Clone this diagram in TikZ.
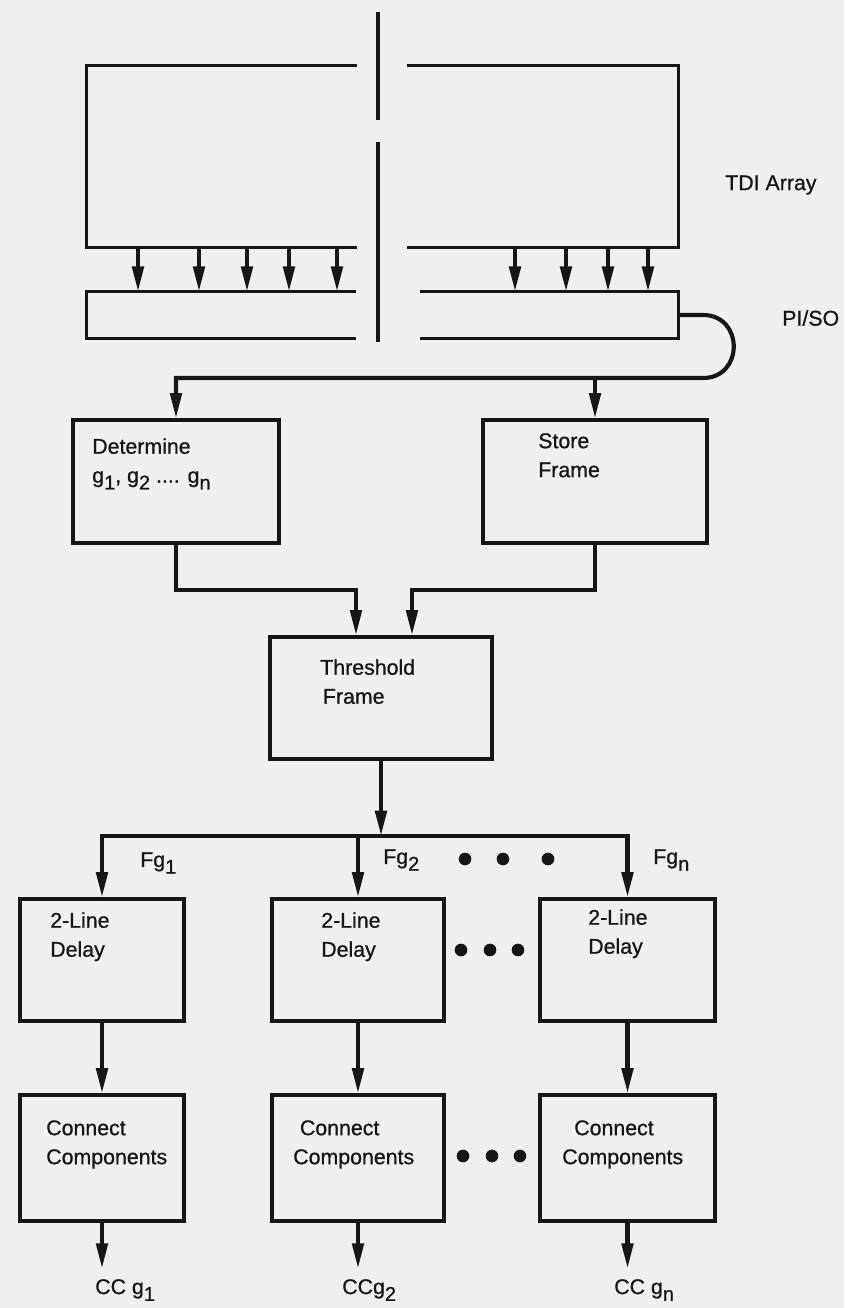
\documentclass[tikz,border=0pt]{standalone}
\usepackage{fontspec}
\setmainfont{Liberation Sans}[FakeBold=0.8]
\usetikzlibrary{arrows.meta,fit,calc}
\definecolor{paper}{RGB}{240,240,238}
\definecolor{ink}{RGB}{22,22,22}
\newcommand{\lowsub}[1]{\raisebox{-0.6ex}{\fontsize{15}{15}\selectfont #1}}

\begin{document}
\begin{tikzpicture}[
    x=0.75pt, y=-0.75pt, color=ink,
    hid/.style={inner sep=0pt},
    blk/.style={draw, line width=2.4pt, inner sep=0pt},
    frame/.style={line width=2.4pt},
    arr/.style={-{Triangle[length=19pt, width=8.5pt]}, line width=3.1pt},
    txt/.style={font=\fontsize{16}{21.75}\selectfont, align=left, anchor=north west, inner sep=0pt},
    lbl/.style={font=\fontsize{16}{19}\selectfont, anchor=west, inner sep=0pt},
    dot/.style={circle, fill, inner sep=0pt, minimum size=9.5pt}
]
\fill[paper] (0,0) rectangle (844,1308);
\useasboundingbox (0,0) rectangle (844,1308);

% TDI array and PI/SO register, cut by the break line
\node[hid, fit={(87,66) (357,247)}] (tdiL) {};
\node[hid, fit={(407,66) (678,247)}] (tdiR) {};
\node[hid, fit={(87,292) (356,338)}] (regL) {};
\node[hid, fit={(420,292) (678,338)}] (regR) {};
\draw[frame] (tdiL.north east) -- (tdiL.north west) -- (tdiL.south west) -- (tdiL.south east);
\draw[frame] (tdiR.north west) -- (tdiR.north east) -- (tdiR.south east) -- (tdiR.south west);
\draw[frame] (regL.north east) -- (regL.north west) -- (regL.south west) -- (regL.south east);
\draw[frame] (regR.north west) -- (regR.north east) -- (regR.south east) -- (regR.south west);
\draw[frame] (378,12) -- (378,120) (378,142) -- (378,342);

\foreach \x in {138,199,247,289,337}
  \draw[arr] (\x,0 |- tdiL.south) -- (\x,0 |- regL.north);
\foreach \x in {515,566,608,648}
  \draw[arr] (\x,0 |- tdiR.south) -- (\x,0 |- regR.north);

\node[lbl] (tdilbl) at (725,185) {TDI Array};
\node[lbl] (pisolbl) at (782,318) {PI/SO};

% frame processing
\node[blk, fit={(73,420) (279,543)}] (det) {};
\node[txt] (dettxt) at (92,438) {Determine\\g\lowsub{1}, g\lowsub{2} .... g\lowsub{n}};
\node[blk, fit={(483,420) (707,543)}] (sto) {};
\node[txt] (stotxt) at (538,433) {Store\\Frame};
\node[blk, fit={(270,637) (492,759)}] (thr) {};
\node[txt] (thrtxt) at (320,659) {Threshold\\\hspace*{2pt}Frame};

\draw[arr] (regR.east) -- (703,315) .. controls (744,315) and (744,378) .. (703,378) -| (det.north);
\draw[arr] (sto.north |- 0,378) -- (sto.north);
\draw[arr] (det.south) |- (356,590) -- (356,590 |- thr.north);
\draw[arr] (sto.south) |- (412,590) -- (412,590 |- thr.north);

% one branch per grey level
\coordinate (fork) at (381,836);
\draw[arr] (thr.south) -- (fork);
\foreach \i/\l/\r in {1/20/184, 2/272/444, 3/540/715} {
  \node[blk, fit={(\l,899) (\r,1021)}] (dl\i) {};
  \node[blk, fit={(\l,1095) (\r,1221)}] (cc\i) {};
  \draw[arr] (dl\i.south) -- (cc\i.north);
  \coordinate (out\i) at ($(cc\i.south)+(0,46)$);
  \draw[arr] (cc\i.south) -- (out\i);
}
\draw[arr] (fork) -| (dl1.north);
\draw[arr] (fork) -| (dl3.north);
\draw[arr] (fork -| dl2.north) -- (dl2.north);

\node[txt] (dl1txt) at (50,912) {2-Line\\Delay};
\node[txt] (dl2txt) at (321,912) {2-Line\\Delay};
\node[txt] (dl3txt) at (588,909) {2-Line\\Delay};
\node[txt] (cc1txt) at (46,1120) {Connect\\Components};
\node[txt] (cc2txt) at (293,1120) {\hspace*{5pt}Connect\\Components};
\node[txt] (cc3txt) at (562,1120) {\hspace*{9pt}Connect\\Components};

\node[lbl] (fg1) at (140,863) {Fg\lowsub{1}};
\node[lbl] (fg2) at (383,860) {Fg\lowsub{2}};
\node[lbl] (fgn) at (653,860) {Fg\lowsub{n}};
\node[lbl] (ccg1) at (95,1290) {CC g\lowsub{1}};
\node[lbl] (ccg2) at (342,1290) {CCg\lowsub{2}};
\node[lbl] (ccgn) at (614,1290) {CC g\lowsub{n}};

\foreach \x [count=\i] in {465,503,548}
  \node[dot] (fgdot\i) at (\x,859) {};
\foreach \x [count=\i] in {461,490,518} {
  \node[dot] (dldot\i) at (\x,950) {};
  \node[dot] (ccdot\i) at (\x+2,1156) {};
}
\end{tikzpicture}
\end{document}
